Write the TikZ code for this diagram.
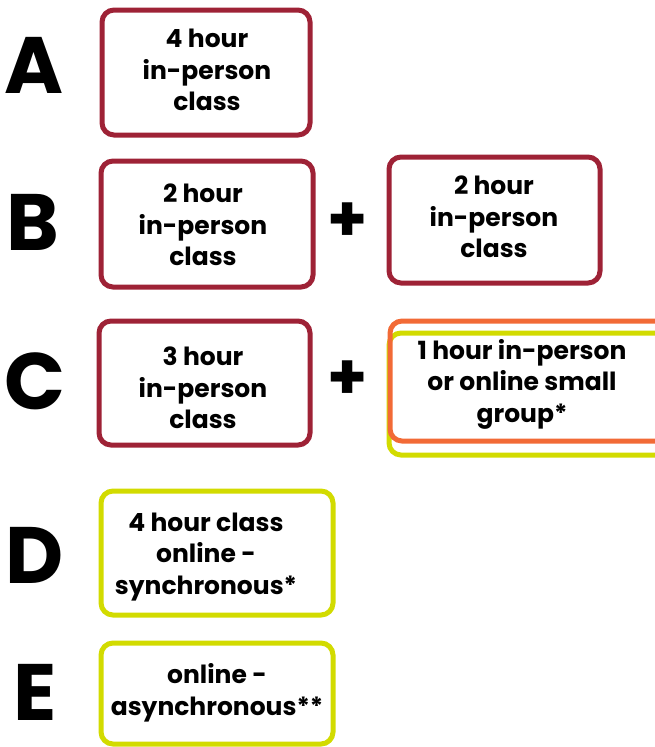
\documentclass[tikz,border=0pt]{standalone}
\usepackage{fontspec}
\setmainfont{Poppins}
\definecolor{wine}{HTML}{9E2236}
\definecolor{lime}{HTML}{D2DB00}
\definecolor{tang}{HTML}{F26A36}
\begin{document}
\begin{tikzpicture}[x=1pt,y=-1pt,
  boxw/.style={line width=5pt,rounded corners=12pt},
  txt/.style={font=\fontsize{25}{31.5}\selectfont\bfseries,align=center,inner sep=0pt},
  letter/.style={font=\fontsize{80}{80}\selectfont\bfseries,inner sep=0pt,anchor=base,text depth=0pt},
  plus/.style={font=\fontsize{64}{64}\selectfont\bfseries,inner sep=0pt}]
\useasboundingbox (0,0) rectangle (654,747);
% A
\node[letter] (la) at (34,93) {A};
\draw[boxw,wine] (102,10) rectangle (310,135);
\node[txt] (ta) at (207,70) {4 hour\\in-person\\class};
% B
\node[letter] (lb) at (33,250) {B};
\draw[boxw,wine] (101,161) rectangle (313,287);
\node[txt] (tb1) at (203,225) {2 hour\\in-person\\class};
\node[plus] (pb) at (348,222) {+};
\draw[boxw,wine] (389,157) rectangle (600,283);
\node[txt] (tb2) at (494,217) {2 hour\\in-person\\class};
% C
\node[letter] (lc) at (35,409) {C};
\draw[boxw,wine] (99,321) rectangle (310,445);
\node[txt] (tc1) at (203,388) {3 hour\\in-person\\class};
\node[plus] (pc) at (348,380) {+};
\draw[boxw,lime] (656,333) -- (389,333) -- (389,455) -- (656,455);
\draw[boxw,tang] (656,321) -- (390,321) -- (390,441) -- (656,441);
\node[txt] (tc2) at (522,384) {1 hour in-person\\or online small\\group*};
% D
\node[letter] (ld) at (35,583) {D};
\draw[boxw,lime] (101,491) rectangle (333,615);
\node[txt] (td) at (206,557) {4 hour class\\online -\\synchronous*};
% E
\node[letter] (le) at (35,720) {E};
\draw[boxw,lime] (101,643) rectangle (333,744);
\node[txt] (te) at (217,693) {online -\\asynchronous**};
\end{tikzpicture}
\end{document}
